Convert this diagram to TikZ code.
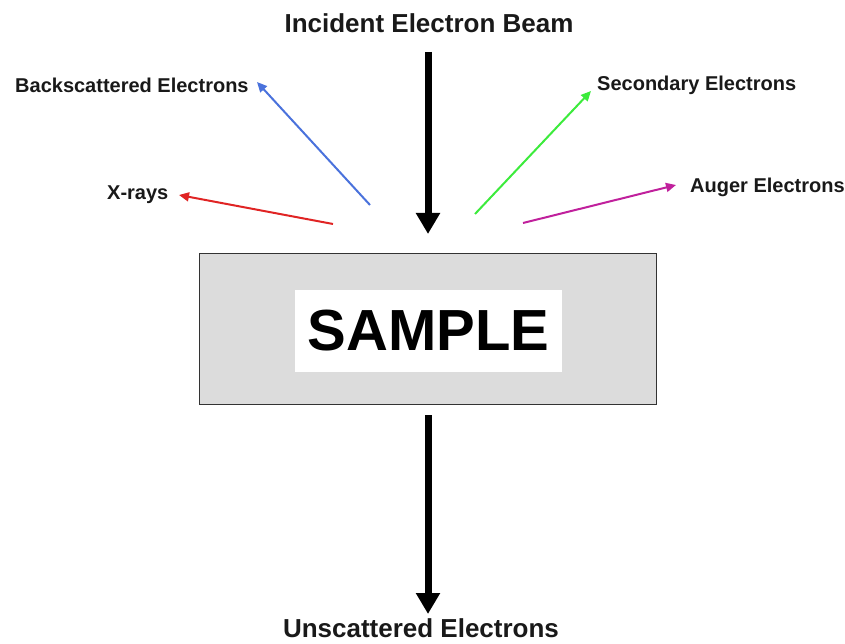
\documentclass[tikz,border=0pt]{standalone}
\usepackage{fontspec}
\setmainfont{Liberation Sans}
\usetikzlibrary{arrows.meta}
\definecolor{bsblue}{HTML}{4A72DC}
\definecolor{xred}{HTML}{E02424}
\definecolor{segreen}{HTML}{3CEB3C}
\definecolor{augmag}{HTML}{C0209C}
\definecolor{boxgray}{HTML}{DCDCDC}
\tikzset{
  lbl/.style={font=\fontsize{20}{24}\selectfont\bfseries, inner sep=0pt, text=black!90},
  biglbl/.style={font=\fontsize{26}{30}\selectfont\bfseries, inner sep=0pt, text=black!90},
  beamarrow/.style={line width=7pt, -{Triangle[width=23pt,length=21pt]}},
  thinarrow/.style={line width=2pt, -{Triangle[width=9pt,length=10pt]}},
}
\begin{document}
\begin{tikzpicture}[x=1pt,y=-1pt]
\useasboundingbox (0,0) rectangle (845,644);
% labels
\node[biglbl] (incident) at (429,23) {Incident Electron Beam};
\node[biglbl] (unscat) at (421,628) {Unscattered Electrons};
\node[lbl, anchor=west] (back) at (15,85) {Backscattered Electrons};
\node[lbl, anchor=west] (xray) at (107,195) {X-rays};
\node[lbl, anchor=west] (second) at (597,85) {Secondary Electrons};
\node[lbl, anchor=west] (auger) at (690,187) {Auger Electrons};
% sample
\node[draw=black!80, line width=1pt, fill=boxgray, minimum width=457pt, minimum height=151pt, inner sep=0pt] (box) at (427.5,328.5) {};
\node[fill=white, minimum width=267pt, minimum height=82pt, inner sep=0pt, font=\fontsize{58}{64}\selectfont\bfseries] (sample) at (428.5,331) {SAMPLE};
% coordinates
\coordinate (beamstart) at (428,52);
\coordinate (beamend) at (428,234);
\coordinate (outstart) at (428,415);
\coordinate (outend) at (428,614);
\coordinate (bs0) at (370,205);
\coordinate (bs1) at (257,82);
\coordinate (xr0) at (333,224);
\coordinate (xr1) at (179,195);
\coordinate (se0) at (475,214);
\coordinate (se1) at (591,91);
\coordinate (au0) at (523,223);
\coordinate (au1) at (676,185);
% arrows
\draw[beamarrow] (beamstart) -- (beamend);
\draw[beamarrow] (outstart) -- (outend);
\draw[thinarrow, bsblue] (bs0) -- (bs1);
\draw[thinarrow, xred] (xr0) -- (xr1);
\draw[thinarrow, segreen] (se0) -- (se1);
\draw[thinarrow, augmag] (au0) -- (au1);
\end{tikzpicture}
\end{document}
